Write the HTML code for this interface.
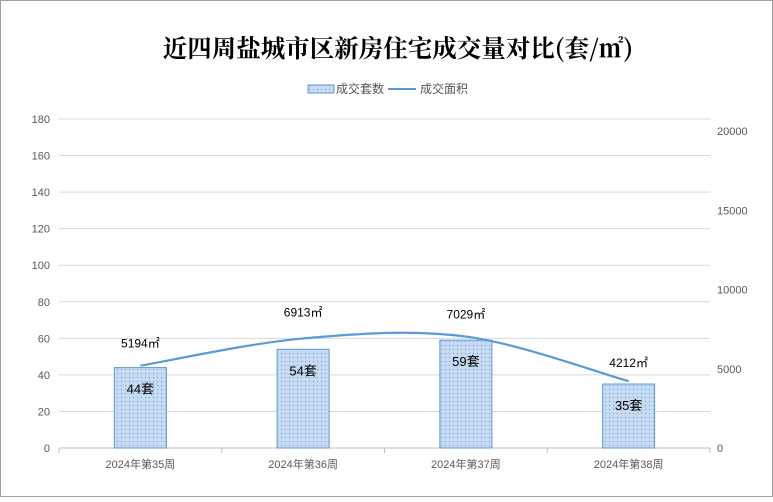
<!DOCTYPE html>
<html><head><meta charset="utf-8"><style>
body{margin:0;background:#fff;font-family:"Liberation Sans","Noto Sans CJK SC",sans-serif}
</style></head><body>
<svg id="chart" width="773" height="497" xmlns="http://www.w3.org/2000/svg" font-family="Liberation Sans, Noto Sans CJK SC, sans-serif">
<defs><pattern id="dots" width="4" height="4" patternUnits="userSpaceOnUse"><rect width="4" height="4" fill="#c6daf2"/><rect x="1" y="1" width="1" height="1" fill="#6f9fd6"/></pattern></defs>
<rect x="0.5" y="0.5" width="772" height="496" fill="#fff" stroke="#a0a0a0"/>
<text x="398" y="57" text-anchor="middle" font-size="24.5" font-weight="bold" font-family="Noto Serif CJK SC, serif">近四周盐城市区新房住宅成交量对比(套/㎡)</text>
<g>
<rect x="308" y="85" width="26" height="8" fill="url(#dots)" stroke="#5b9bd5"/>
<text x="336" y="93" font-size="12" fill="#555">成交套数</text>
<line x1="388" y1="89" x2="416" y2="89" stroke="#5b9bd5" stroke-width="2"/>
<text x="420" y="93" font-size="12" fill="#555">成交面积</text>
</g>
<g id="grid"></g><g id="axes"></g><g id="bars"></g><g id="line"></g><g id="labels"></g>
</svg>
<script>
const categories=["2024年第35周","2024年第36周","2024年第37周","2024年第38周"];
const units=[44,54,59,35];
const areas=[5194,6913,7029,4212];
const leftTicks=[0,20,40,60,80,100,120,140,160,180];
const rightTicks=[0,5000,10000,15000,20000];
const NS="http://www.w3.org/2000/svg";
const X0=59,X1=710,Y0=448;
const yL=v=>Y0-v*(448-119)/180;
const yR=v=>Y0-v*(448-131)/20000;
const band=(X1-X0)/categories.length;
const xC=i=>X0+band*(i+0.5);
function mk(p,t,a,txt){const e=document.createElementNS(NS,t);for(const k in a)e.setAttribute(k,a[k]);if(txt!=null)e.textContent=txt;document.getElementById(p).appendChild(e);return e;}
leftTicks.forEach(v=>{
 const g=mk('grid','line',{x1:X0,x2:X1,y1:yL(v),y2:yL(v),stroke:v?'#d9d9d9':'#bfbfbf'});
 
 
 const t=mk('axes','text',{x:50,y:yL(v)+4,'text-anchor':'end','font-size':11,fill:'#595959'},v);
 
 
});
rightTicks.forEach(v=>{
 const t=mk('axes','text',{x:717,y:yR(v)+4,'font-size':11,fill:'#595959'},v);
 
 
});
for(let i=0;i<=categories.length;i++){
 const tk=mk('axes','line',{x1:X0+band*i,x2:X0+band*i,y1:Y0,y2:Y0+5,stroke:'#bfbfbf'});
 
 
}
categories.forEach((c,i)=>{
 const t=mk('axes','text',{x:xC(i),y:468,'text-anchor':'middle','font-size':11,fill:'#595959'},c);
 
 
 const bw=52;
 const b=mk('bars','rect',{x:xC(i)-bw/2,y:yL(units[i]),width:bw,height:Y0-yL(units[i]),fill:'url(#dots)',stroke:'#5b9bd5'});
 
 
 const l=mk('labels','text',{x:xC(i),y:yL(units[i])+26,'text-anchor':'middle','font-size':13,fill:'#000'},units[i]+'套');
 
 
});
const pts=areas.map((v,i)=>[xC(i),yR(v)]);
let d=`M${pts[0][0]},${pts[0][1]}`;
for(let i=0;i<pts.length-1;i++){
 const p0=pts[Math.max(0,i-1)],p1=pts[i],p2=pts[i+1],p3=pts[Math.min(pts.length-1,i+2)];
 const c1=[p1[0]+(p2[0]-p0[0])/6,p1[1]+(p2[1]-p0[1])/6],c2=[p2[0]-(p3[0]-p1[0])/6,p2[1]-(p3[1]-p1[1])/6];
 d+=` C${c1[0]},${c1[1]} ${c2[0]},${c2[1]} ${p2[0]},${p2[1]}`;
}
const ln=mk('line','path',{d:d,fill:'none',stroke:'#5b9bd5','stroke-width':2.2});


const offs=[-18,-22,-18,-14];
pts.forEach((p,i)=>{
 const t=mk('labels','text',{x:p[0],y:p[1]+offs[i],'text-anchor':'middle','font-size':12,fill:'#000'},areas[i]+'㎡');
 
 
});
</script>
</body></html>
